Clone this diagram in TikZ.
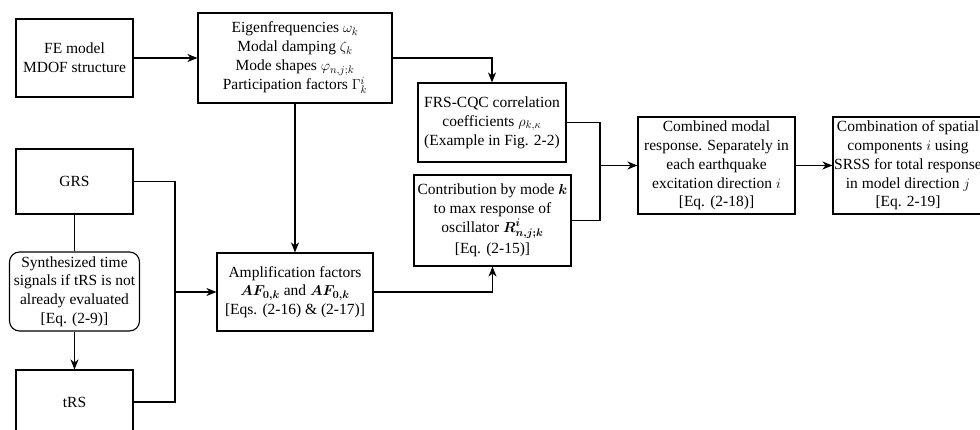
\documentclass[tikz,border=0pt]{standalone}
\usepackage{amsmath}
\usepackage{bm}
\usepackage{fontspec}
\setmainfont{Liberation Serif}
\usetikzlibrary{arrows.meta}
\tikzset{
  box/.style={draw=black, line width=1.1pt, fill=white, inner sep=0pt, align=center,
    font=\fontsize{15.5}{18.8}\selectfont},
  rbox/.style={box, rounded corners=10pt},
  link/.style={draw=black, line width=1.1pt},
  arr/.style={link, -{Stealth[length=10pt,width=8pt,inset=3pt]}}
}
\begin{document}
\begin{tikzpicture}[x=1pt,y=-1pt]
\useasboundingbox (0,0) rectangle (980,430);
\clip (0,0) rectangle (980,430);
\node[box, minimum width=117pt, minimum height=78pt] (fe) at (74.5,58) {FE model\\MDOF structure};
\node[box, minimum width=194pt, minimum height=90pt] (eig) at (295,58)
  {Eigenfrequencies $\omega_k$\\Modal damping $\zeta_k$\\Mode shapes $\varphi_{n,j;k}$\\Participation factors $\Gamma_k^i$};
\node[box, minimum width=148pt, minimum height=79pt] (frs) at (492,122.5)
  {FRS-CQC correlation\\coefficients $\rho_{k,\kappa}$\\(Example in Fig. 2-2)};
\node[box, minimum width=157pt, minimum height=91pt] (contr) at (492.5,220.5)
  {Contribution by mode $\bm{k}$\\to max response of\\oscillator $\bm{R^i_{n,j;k}}$\\[3pt]{}[Eq. (2-15)]};
\node[box, minimum width=157pt, minimum height=97pt] (comb) at (716.5,165.5)
  {Combined modal\\response. Separately in\\each earthquake\\excitation direction $i$\\{}[Eq. (2-18)]};
\node[box, minimum width=150pt, minimum height=97pt] (spat) at (908,165.5)
  {Combination of spatial\\components $i$ using\\SRSS for total response\\in model direction $j$\\{}[Eq. 2-19]};
\node[box, minimum width=117pt, minimum height=65pt] (grs) at (74.5,181.5) {GRS};
\node[rbox, minimum width=130pt, minimum height=79pt] (syn) at (74.5,291.5)
  {Synthesized time\\signals if tRS is not\\already evaluated\\{}[Eq. (2-9)]};
\node[box, minimum width=117pt, minimum height=64pt] (trs) at (74.5,402) {tRS};
\node[box, minimum width=156pt, minimum height=78pt] (af) at (295,292)
  {Amplification factors\\$\bm{AF_{0,k}}$ and $\bm{AF_{0,k}}$\\{}[Eqs. (2-16) \& (2-17)]};
\coordinate (j1) at (175,292);
\coordinate (j2) at (600,165.5);
\draw[arr] (fe.east) -- (eig.west);
\draw[arr] (eig.east) -| (frs.north);
\draw[arr] (eig.south) -- (af.north);
\draw[link] (grs.east) -| (j1);
\draw[link] (trs.east) -| (j1);
\draw[arr] (j1) -- (af.west);
\draw[link] (grs.south) -- (syn.north);
\draw[arr] (syn.south) -- (trs.north);
\draw[arr] (af.east) -| (contr.south);
\draw[link] (frs.east) -| (j2);
\draw[link] (contr.east) -| (j2);
\draw[arr] (j2) -- (comb.west);
\draw[arr] (comb.east) -- (spat.west);
\end{tikzpicture}
\end{document}
